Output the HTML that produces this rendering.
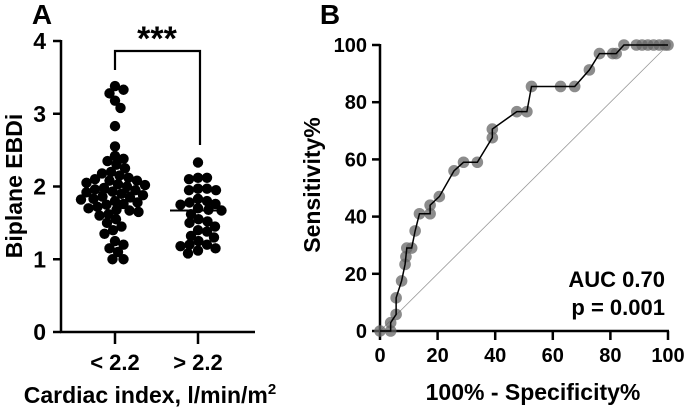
<!DOCTYPE html>
<html><head><meta charset="utf-8"><style>
body{margin:0;background:#fff}
svg{display:block;font-family:"Liberation Sans",Arial,sans-serif;font-weight:bold}
</style></head><body>
<svg width="685" height="409" viewBox="0 0 685 409">
<g id="pa"></g>
<g id="pb"></g>
</svg>
<script>
const groupLabels=["< 2.2","> 2.2"];
const group1=[3.38,3.33,3.28,3.18,3.08,2.83,2.55,2.42,2.38,2.35,2.30,2.25,2.20,2.18,2.15,2.12,2.10,2.08,2.08,2.05,2.03,2.02,2.00,1.98,1.96,1.95,1.93,1.92,1.90,1.88,1.86,1.85,1.83,1.82,1.80,1.78,1.76,1.75,1.72,1.70,1.68,1.67,1.65,1.62,1.60,1.55,1.50,1.45,1.40,1.35,1.25,1.20,1.15,1.10,1.00,1.00];
const group2=[2.33,2.12,2.12,2.10,1.97,1.97,1.95,1.95,1.83,1.80,1.78,1.76,1.75,1.70,1.68,1.67,1.62,1.55,1.52,1.50,1.45,1.40,1.38,1.32,1.30,1.25,1.20,1.20,1.18,1.15,1.12,1.08];
const medians=[1.92,1.67];
const yTicksA=[0,1,2,3,4];
const rocX=[0,3.7,3.7,5.6,5.6,7.5,8.7,9,9.3,11,12.2,13.7,17.4,17.4,20.6,25.7,29,33.8,39,39,47.5,51,52.6,62.7,67.6,72.7,76.2,80.8,82,84.7,89,91,93,95,97,99,100];
const rocY=[0,0,2.9,5.8,11.6,17.5,23.3,26,29,29,35,41,41,44,47,56,59,59,67.6,70.6,76.7,76.7,85.5,85.5,85.5,91.3,97,97,97,100,100,100,100,100,100,100,100];
const ticksB=[0,20,40,60,80,100];
const NS="http://www.w3.org/2000/svg";
function mk(p,t,a,txt){const e=document.createElementNS(NS,t);for(const k in a)e.setAttribute(k,a[k]);if(txt!=null)e.textContent=txt;p.appendChild(e);return e;}
// Panel A
const A=document.getElementById('pa');
const yA=v=>332-v*72.75, xA=[115,198];
let e;
e=mk(A,'text',{x:42,y:24,'font-size':28,'text-anchor':'middle'},'A');
e=mk(A,'line',{x1:61,y1:40,x2:61,y2:333,stroke:'#000','stroke-width':2.5});
e=mk(A,'line',{x1:60,y1:332,x2:255,y2:332,stroke:'#000','stroke-width':2.5});
yTicksA.forEach(t=>{mk(A,'line',{x1:53,y1:yA(t),x2:61,y2:yA(t),stroke:'#000','stroke-width':2.5});
e=mk(A,'text',{x:46,y:yA(t)+8,'font-size':23,'text-anchor':'end'},t);});
groupLabels.forEach((g,i)=>{mk(A,'line',{x1:xA[i],y1:332,x2:xA[i],y2:344,stroke:'#000','stroke-width':2.5});
e=mk(A,'text',{x:xA[i],y:370,'font-size':22,'text-anchor':'middle'},g);});
e=mk(A,'text',{x:150,y:403,'font-size':23,'text-anchor':'middle'},'Cardiac index, l/min/m');
mk(e,'tspan',{'font-size':15,dy:-9},'2');
e=mk(A,'text',{x:0,y:0,'font-size':23,'text-anchor':'middle',transform:'translate(22,186) rotate(-90)'},'Biplane EBDi');
e=mk(A,'path',{d:'M115,70 V51 H200 V145',fill:'none',stroke:'#000','stroke-width':2.2});
e=mk(A,'text',{x:157,y:50,'font-size':34,'text-anchor':'middle'},'***');
function swarm(vals,cx){const placed=[],r=5.2,d=2*r;
vals.forEach(v=>{const y=yA(v);let off=0;for(let k=0;k<200;k++){const cand=k===0?0:(k%2?1:-1)*Math.ceil(k/2)*0.5;
if(placed.every(p=>Math.hypot(p[0]-(cx+cand),p[1]-y)>=d*0.85)){off=cand;break;}}
placed.push([cx+off,y]);});return placed;}
[group1,group2].forEach((g,i)=>{swarm(g,xA[i]).forEach(p=>{e=mk(A,'circle',{cx:p[0],cy:p[1],r:5.2,fill:'#000'});});
e=mk(A,'line',{x1:xA[i]-28,y1:yA(medians[i]),x2:xA[i]+28,y2:yA(medians[i]),stroke:'#000','stroke-width':2});});
// Panel B
const B=document.getElementById('pb');
const xB=v=>380+v*2.88, yB=v=>331-v*2.86;
e=mk(B,'text',{x:330,y:24,'font-size':28,'text-anchor':'middle'},'B');
e=mk(B,'line',{x1:xB(0),y1:yB(0),x2:xB(100),y2:yB(100),stroke:'#999','stroke-width':0.8});
e=mk(B,'line',{x1:380,y1:44,x2:380,y2:332,stroke:'#000','stroke-width':2.5});
e=mk(B,'line',{x1:379,y1:331,x2:669,y2:331,stroke:'#000','stroke-width':2.5});
ticksB.forEach(t=>{mk(B,'line',{x1:372,y1:yB(t),x2:380,y2:yB(t),stroke:'#000','stroke-width':2.5});
e=mk(B,'text',{x:367,y:yB(t)+7,'font-size':20,'text-anchor':'end'},t);
mk(B,'line',{x1:xB(t),y1:331,x2:xB(t),y2:340,stroke:'#000','stroke-width':2.5});
e=mk(B,'text',{x:xB(t),y:362,'font-size':20,'text-anchor':'middle'},t);});
e=mk(B,'text',{x:533,y:400,'font-size':23,'text-anchor':'middle'},'100% - Specificity%');
e=mk(B,'text',{x:0,y:0,'font-size':23,'text-anchor':'middle',transform:'translate(320,185) rotate(-90)'},'Sensitivity%');
rocX.forEach((x,i)=>{e=mk(B,'circle',{cx:xB(x),cy:yB(rocY[i]),r:5.8,fill:'#666','fill-opacity':0.75});});
e=mk(B,'polyline',{points:rocX.map((x,i)=>xB(x)+','+yB(rocY[i])).join(' '),fill:'none',stroke:'#000','stroke-width':1.5});
e=mk(B,'text',{x:665,y:287,'font-size':22,'text-anchor':'end'},'AUC 0.70');
e=mk(B,'text',{x:665,y:315,'font-size':22,'text-anchor':'end'},'p = 0.001');
</script>
</body></html>
